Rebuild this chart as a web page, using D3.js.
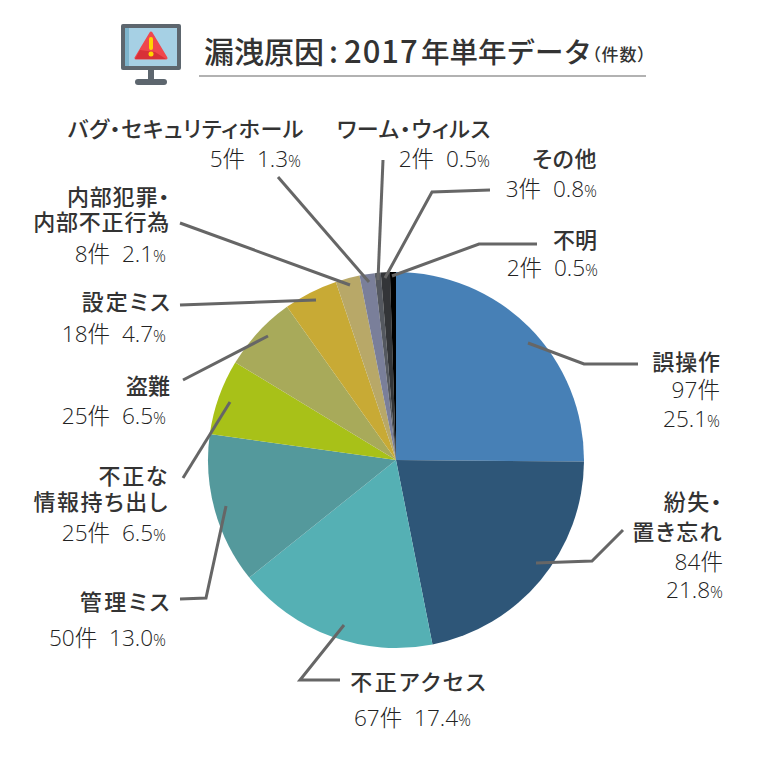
<!DOCTYPE html>
<html>
<head>
<meta charset="utf-8">
<script src="https://cdn.jsdelivr.net/npm/d3@7"></script>
<style>
  html, body { margin: 0; background: #fff; }
  text { font-family: "Open Sans", "Noto Sans CJK JP", sans-serif; fill: #333; }
  .name { font-family: "Noto Sans CJK JP", sans-serif; font-weight: 500; font-size: 22px; font-feature-settings: "palt"; }
  .val { font-size: 22.6px; font-weight: 300; fill: #222; }
</style>
</head>
<body>
<div id="chart"></div>
<script>
const categories = ["誤操作", "紛失・置き忘れ", "不正アクセス", "管理ミス", "不正な情報持ち出し", "盗難", "設定ミス", "内部犯罪・内部不正行為", "バグ・セキュリティホール", "ワーム・ウィルス", "その他", "不明"];
const counts = [97, 84, 67, 50, 25, 25, 18, 8, 5, 2, 3, 2];
const shares = ["25.1", "21.8", "17.4", "13.0", "6.5", "6.5", "4.7", "2.1", "1.3", "0.5", "0.8", "0.5"];
const colors = ["#4780b6", "#2e5678", "#55b0b4", "#54999c", "#a8c118", "#a8aa5a", "#c8aa35", "#b8a868", "#7a7f9a", "#54585f", "#333538", "#000000"];

// label placement, one entry per category: name lines with baselines, value lines with baselines
const labelLayout = [
  { name: ["誤操作"], nameY: [370], x: 721, ls: 0.9, val: ["{n}件", "{p}"], valY: [398, 427], vx: 720 },
  { name: ["紛失・", "置き忘れ"], nameY: [510, 540], x: 723, ls: 1.4, val: ["{n}件", "{p}"], valY: [570, 598], vx: 723 },
  { name: ["不正アクセス"], nameY: [690], x: 488, ls: 2.3, val: ["{n}件  {p}"], valY: [726], vx: 471 },
  { name: ["管理ミス"], nameY: [610], x: 172, ls: 2.6, val: ["{n}件  {p}"], valY: [646], vx: 166 },
  { name: ["不正な", "情報持ち出し"], nameY: [484, 510], x: 169, ls: 1.6, val: ["{n}件  {p}"], valY: [541], vx: 166 },
  { name: ["盗難"], nameY: [394], x: 170, ls: 0, val: ["{n}件  {p}"], valY: [424], vx: 166 },
  { name: ["設定ミス"], nameY: [310], x: 172, ls: 2.1, val: ["{n}件  {p}"], valY: [342], vx: 166 },
  { name: ["内部犯罪・", "内部不正行為"], nameY: [205, 230], x: 170, ls: 0.8, val: ["{n}件  {p}"], valY: [262], vx: 166 },
  { name: ["バグ・セキュリティホール"], nameY: [137], x: 304, ls: 0.6, val: ["{n}件  {p}"], valY: [167], vx: 301 },
  { name: ["ワーム・ウィルス"], nameY: [137], x: 491, ls: 0.6, val: ["{n}件  {p}"], valY: [167], vx: 490 },
  { name: ["その他"], nameY: [167], x: 597, ls: 0.6, val: ["{n}件  {p}"], valY: [197], vx: 597 },
  { name: ["不明"], nameY: [248], x: 597, ls: 0, val: ["{n}件  {p}"], valY: [276], vx: 598 }
];
const leaders = [
  [[528, 343], [584, 364], [638, 364]],
  [[536, 563], [592, 561], [623, 530]],
  [[344, 625], [300, 680], [340, 680]],
  [[226, 506], [206, 598], [180, 599]],
  [[230, 402], [183, 478]],
  [[268, 336], [183, 380]],
  [[316, 300], [180, 305]],
  [[350, 285], [180, 223]],
  [[369, 282], [278, 177]],
  [[378, 280], [383, 160]],
  [[385, 278], [432, 192], [490, 190]],
  [[392, 276], [479, 244], [537, 244]]
];

const width = 770;
const height = 761;
const cx = 396;
const cy = 460;
const radius = 188;

const svg = d3.select("#chart").append("svg")
  .attr("width", width)
  .attr("height", height)
  .style("display", "block");

// title icon
const icon = svg.append("g");
icon.append("rect").attr("x", 121).attr("y", 24).attr("width", 60).attr("height", 46).attr("rx", 2).attr("fill", "#5d666e");
icon.append("rect").attr("x", 125).attr("y", 28).attr("width", 52).attr("height", 38).attr("fill", "#a6d0e4");
icon.append("rect").attr("x", 125).attr("y", 28).attr("width", 4).attr("height", 38).attr("fill", "#7db4cc");
icon.append("rect").attr("x", 148).attr("y", 70).attr("width", 6).attr("height", 11).attr("fill", "#5d666e");
icon.append("rect").attr("x", 135).attr("y", 79).attr("width", 32).attr("height", 6).attr("rx", 3).attr("fill", "#5d666e");
icon.append("path").attr("d", "M151 33 L166 58 L136 58 Z").attr("fill", "#f0474d").attr("stroke", "#f0474d").attr("stroke-width", 3).attr("stroke-linejoin", "round");
icon.append("path").attr("d", "M135 59 L166 59 L155 52 L140 50 Z").attr("fill", "#d83038");
icon.append("rect").attr("x", 149).attr("y", 37).attr("width", 4).attr("height", 13).attr("rx", 2).attr("fill", "#ffd500");
icon.append("circle").attr("cx", 151).attr("cy", 54).attr("r", 2.5).attr("fill", "#ffd500");

// title, placed piece by piece because the original mixes sizes and widths
const title = svg.append("text").attr("y", 63).attr("font-weight", 500)
  .style("font-family", '"Noto Sans CJK JP", sans-serif');
title.append("tspan").attr("x", 204).attr("font-size", 30).text("漏洩原因");
title.append("tspan").attr("x", 329).attr("font-size", 30).text(":");
title.append("tspan").attr("x", 344).attr("font-size", 31).attr("letter-spacing", 1).text("2017");
title.append("tspan").attr("x", 421).attr("font-size", 28.5).text("年単年データ");
title.append("tspan").attr("x", 592).attr("y", 61).attr("font-size", 17).attr("letter-spacing", 1)
  .style("font-feature-settings", '"palt"').text("（件数）");
svg.append("line").attr("x1", 199).attr("x2", 646).attr("y1", 76).attr("y2", 76)
  .attr("stroke", "#999").attr("stroke-width", 1.5);

// pie
const pie = d3.pie().sort(null).value((d) => d);
const arc = d3.arc().innerRadius(0).outerRadius(radius);
svg.append("g")
  .attr("transform", `translate(${cx}, ${cy})`)
  .selectAll("path")
  .data(pie(counts))
  .enter()
  .append("path")
  .attr("d", arc)
  .attr("fill", (d, i) => colors[i]);

// leader lines
const line = d3.line();
svg.append("g")
  .selectAll("path")
  .data(leaders)
  .enter()
  .append("path")
  .attr("d", (d) => line(d))
  .attr("fill", "none")
  .attr("stroke", "#666")
  .attr("stroke-width", 3);

// labels
function addValue(g, str, x, y) {
  const t = g.append("text").attr("class", "val").attr("x", x).attr("y", y)
    .attr("text-anchor", "end").style("white-space", "pre");
  t.append("tspan").text(str.replace("%", ""));
  if (str.includes("%")) t.append("tspan").attr("font-size", 16).text("%");
}

labelLayout.forEach((lab, i) => {
  const g = svg.append("g");
  lab.name.forEach((s, k) => {
    g.append("text").attr("class", "name").attr("x", lab.x).attr("y", lab.nameY[k])
      .attr("letter-spacing", lab.ls).attr("text-anchor", "end").text(s);
  });
  lab.val.forEach((s, k) => {
    const str = s.replace("{n}", counts[i]).replace("{p}", shares[i] + "%");
    addValue(g, str, lab.vx, lab.valY[k]);
  });
});
</script>
</body>
</html>
